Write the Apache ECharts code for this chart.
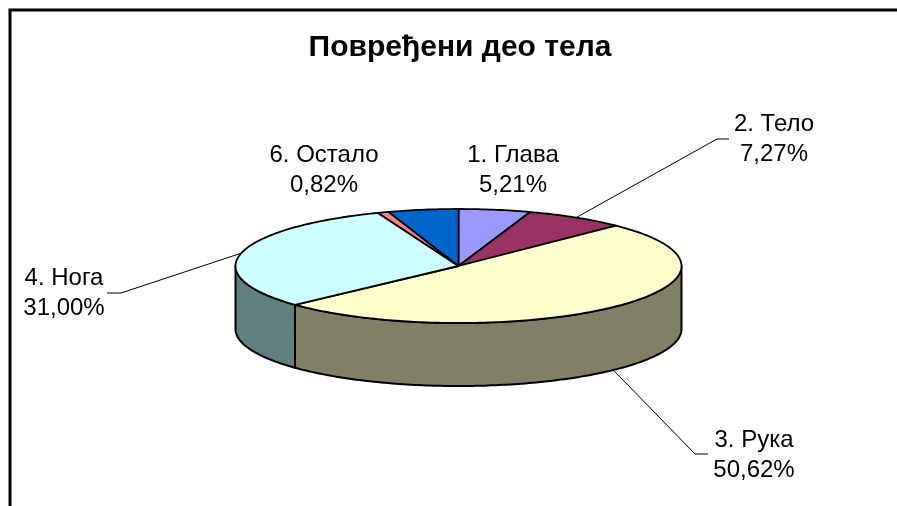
<!DOCTYPE html>
<html>
<head>
<meta charset="utf-8">
<script src="https://cdn.jsdelivr.net/npm/echarts@6/dist/echarts.min.js"></script>
<style>html,body{margin:0;padding:0;background:#fff;}#main{width:897px;height:506px;}</style>
</head>
<body>
<div id="main"></div>
<script>
// ---- data ----
const titleText = 'Повређени део тела';
const categories = ['1. Глава', '2. Тело', '3. Рука', '4. Нога', '6. Остало', ''];
const values = [5.21, 7.27, 50.62, 31.00, 0.82, 5.08];
const percentLabels = ['5,21%', '7,27%', '50,62%', '31,00%', '0,82%', ''];

// ---- style / layout ----
const topColors = ['#9999FF', '#993366', '#FFFFCC', '#CCFFFF', '#FF8080', '#0066CC'];
const sideColors = ['#4C4C80', '#4C1933', '#808066', '#608080', '#804040', '#003366'];
const geo = { cx: 458.5, cy: 266, rx: 223, ry: 57, depth: 63 };
// label block centre, and the leader's knee (null = no leader)
const labelLayout = [
  { x: 513, y: 170, knee: null },
  { x: 774, y: 139.5, knee: [[729, 139], [717, 139]] },
  { x: 754, y: 455, knee: [[708, 454], [695, 454]] },
  { x: 64, y: 293, knee: [[107, 293], [121, 293]] },
  { x: 324, y: 170, knee: null },
  null
];

const total = values.reduce((a, b) => a + b, 0);

function rimPoint(deg, dy) {
  const r = deg * Math.PI / 180;
  return [geo.cx + geo.rx * Math.sin(r), geo.cy - geo.ry * Math.cos(r) + (dy || 0)];
}
function arcPoints(a, b, dy) {
  const pts = [];
  const n = Math.max(2, Math.ceil(Math.abs(b - a)));
  for (let k = 0; k <= n; k++) pts.push(rimPoint(a + (b - a) * k / n, dy));
  return pts;
}

function renderItem(params, api) {
  const i = params.dataIndex;
  const v = api.value(0);
  let before = 0;
  for (let k = 0; k < i; k++) before += values[k];
  const a1 = before / total * 360;
  const a2 = (before + v) / total * 360;
  const children = [];
  // front side wall
  const s = Math.max(a1, 90), e = Math.min(a2, 270);
  if (e > s) {
    const pts = arcPoints(s, e, 0).concat(arcPoints(e, s, geo.depth));
    children.push({
      type: 'polygon', z2: 1,
      shape: { points: pts },
      style: { fill: sideColors[i], stroke: '#000', lineWidth: 2, lineJoin: 'round' }
    });
  }
  // top face
  const topPts = [[geo.cx, geo.cy]].concat(arcPoints(a1, a2, 0));
  children.push({
    type: 'polygon', z2: 10,
    shape: { points: topPts },
    style: { fill: topColors[i], stroke: '#000', lineWidth: 1.8, lineJoin: 'round' }
  });
  // label
  const lay = labelLayout[i];
  if (lay) {
    children.push({
      type: 'text', z2: 20,
      style: {
        x: lay.x, y: lay.y,
        text: categories[i] + '\n' + percentLabels[i],
        fill: '#000', align: 'center', verticalAlign: 'middle',
        font: '24px "Liberation Sans", Arial, sans-serif', lineHeight: 30
      }
    });
    if (lay.knee) {
      const mid = (a1 + a2) / 2;
      const front = mid > 90 && mid < 270;
      const end = rimPoint(mid, front ? geo.depth : 0);
      children.push({
        type: 'polyline', z2: 20,
        shape: { points: lay.knee.concat([end]) },
        style: { stroke: '#000', lineWidth: 1, fill: null }
      });
    }
  }
  return { type: 'group', children: children };
}

const chart = echarts.init(document.getElementById('main'), null, { renderer: 'canvas' });
chart.setOption({
  backgroundColor: '#fff',
  animation: false,
  graphic: [
    { type: 'rect', shape: { x: 10, y: 10, width: 900, height: 520 }, style: { fill: null, stroke: '#000', lineWidth: 3 } },
    { type: 'text', style: { x: 460, y: 48, text: titleText, align: 'center', verticalAlign: 'middle', fill: '#000',
      font: 'bold 30px "Liberation Sans", Arial, sans-serif' } }
  ],
  series: [{
    type: 'custom',
    coordinateSystem: 'none',
    renderItem: renderItem,
    data: values.map((v, i) => ({ name: categories[i], value: v }))
  }]
});
</script>
</body>
</html>
